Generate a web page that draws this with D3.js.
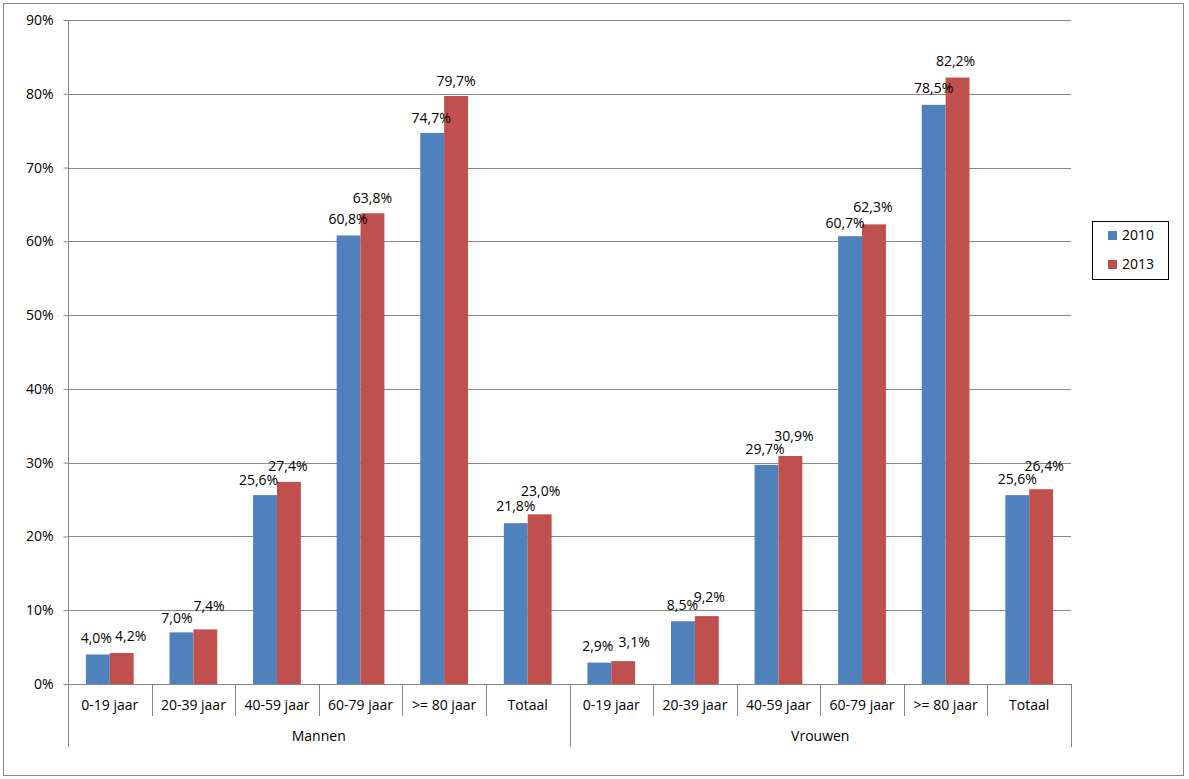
<!DOCTYPE html>
<html>
<head>
<meta charset="utf-8">
<script src="https://cdn.jsdelivr.net/npm/d3@7"></script>
<style>
  html, body { margin: 0; padding: 0; background: #fff; }
  svg { display: block; }
  text { font-family: "Open Sans", "Liberation Sans", sans-serif; fill: #000; }
</style>
</head>
<body>
<svg id="chart" width="1189" height="779"></svg>
<script>
// ---- data ----
const groups = ["Mannen", "Vrouwen"];
const categories = ["0-19 jaar", "20-39 jaar", "40-59 jaar", "60-79 jaar", ">= 80 jaar", "Totaal"];
const series = ["2010", "2013"];
const values2010 = [4.0, 7.0, 25.6, 60.8, 74.7, 21.8, 2.9, 8.5, 29.7, 60.7, 78.5, 25.6];
const values2013 = [4.2, 7.4, 27.4, 63.8, 79.7, 23.0, 3.1, 9.2, 30.9, 62.3, 82.2, 26.4];
const yTicks = [0, 10, 20, 30, 40, 50, 60, 70, 80, 90];

// ---- layout (label nudges as placed in the original) ----
const nudge2010 = [[-1.5,0],[-4.5,2],[-6.5,1],[-0.5,0],[-1,1],[0,-1],[-1.5,-1],[-0.5,0],[-1.5,0],[-5,3],[0,-1],[0,0]];
const nudge2013 = [[9,-1],[3.7,-7],[-1,0],[0,1],[0,1],[1,-7],[11,-3],[2.5,-3],[3.5,-4],[-1,-1],[-2,-1],[3,-7]];
const colors = { "2010": "#4F81BD", "2013": "#C0504D" };
const gridColor = "#868686";

const svg = d3.select("#chart");
const W = 1189, H = 779;
const plot = { left: 68, right: 1071, top: 20, bottom: 684 };

// outer border
svg.append("rect").attr("x", 3.5).attr("y", 3.5).attr("width", 1180).attr("height", 772)
  .attr("fill", "#fff").attr("stroke", gridColor).attr("stroke-width", 1);

const nCat = groups.length * categories.length;
const keys = d3.range(nCat);
const x = d3.scaleBand().domain(keys).range([plot.left, plot.right]).paddingInner(0).paddingOuter(0);
const xSub = d3.scaleBand().domain(series).range([0, x.bandwidth()]).paddingInner(0).paddingOuter(0.75);
const y = d3.scaleLinear().domain([0, 90]).range([plot.bottom, plot.top]);

// gridlines
svg.append("g").selectAll("line").data(yTicks.filter(d => d > 0)).join("line")
  .attr("x1", plot.left).attr("x2", plot.right)
  .attr("y1", d => Math.round(y(d)) + 0.5).attr("y2", d => Math.round(y(d)) + 0.5)
  .attr("stroke", gridColor).attr("stroke-width", 1);

// bars
const rows = keys.map(i => ({ i, vals: [
  { s: "2010", v: values2010[i], n: nudge2010[i] },
  { s: "2013", v: values2013[i], n: nudge2013[i] }
]}));

const gBars = svg.append("g");
rows.forEach(r => {
  r.vals.forEach(d => {
    gBars.append("rect")
      .attr("x", x(r.i) + xSub(d.s))
      .attr("y", y(d.v))
      .attr("width", xSub.bandwidth())
      .attr("height", y(0) - y(d.v))
      .attr("fill", colors[d.s]);
  });
});

// data labels
const fmt = v => d3.format(".1f")(v).replace(".", ",") + "%";
const gLab = svg.append("g");
rows.forEach(r => {
  r.vals.forEach(d => {
    gLab.append("text")
      .attr("x", x(r.i) + xSub(d.s) + xSub.bandwidth() / 2 + d.n[0])
      .attr("y", y(d.v) - 11 + d.n[1])
      .attr("text-anchor", "middle")
      .attr("font-size", 14)
      .text(fmt(d.v));
  });
});

// y axis
const yAxis = svg.append("g").attr("transform", `translate(${plot.left + 0.5},0)`)
  .call(d3.axisLeft(y).tickValues(yTicks).tickSize(5).tickPadding(10).tickFormat(d => d + "%"));
yAxis.select(".domain").attr("stroke", gridColor).attr("d", `M0,${plot.top}V${plot.bottom}`);
yAxis.selectAll(".tick line").attr("stroke", gridColor);
yAxis.selectAll(".tick text").attr("font-size", 14).attr("font-family", "Open Sans").attr("fill", "#000");

// x axis baseline
svg.append("line").attr("x1", plot.left).attr("x2", plot.right)
  .attr("y1", Math.round(y(0)) + 0.5).attr("y2", Math.round(y(0)) + 0.5)
  .attr("stroke", gridColor);

// category separators
const boundaries = d3.range(nCat + 1);
const gSep = svg.append("g");
boundaries.forEach(b => {
  const xb = Math.round(b === nCat ? plot.right : x(b)) + 0.5;
  const isGroupEdge = b % categories.length === 0;
  gSep.append("line")
    .attr("x1", xb).attr("x2", xb)
    .attr("y1", plot.bottom).attr("y2", isGroupEdge ? 747 : 716)
    .attr("stroke", gridColor);
});

// category labels
svg.append("g").selectAll("text").data(keys).join("text")
  .attr("x", d => x(d) + x.bandwidth() / 2)
  .attr("y", 710)
  .attr("text-anchor", "middle")
  .attr("font-size", 14)
  .text(d => categories[d % categories.length]);

// group labels
svg.append("g").selectAll("text").data(groups).join("text")
  .attr("x", (d, gi) => (x(gi * categories.length) + (gi === groups.length - 1 ? plot.right : x((gi + 1) * categories.length))) / 2)
  .attr("y", 741)
  .attr("text-anchor", "middle")
  .attr("font-size", 14)
  .text(d => d);

// legend
const leg = svg.append("g");
leg.append("rect").attr("x", 1092.5).attr("y", 221.5).attr("width", 76).attr("height", 58)
  .attr("fill", "#fff").attr("stroke", "#000");
series.forEach((s, i) => {
  leg.append("rect").attr("x", 1108).attr("y", 231 + i * 29).attr("width", 9).attr("height", 9)
    .attr("fill", colors[s]);
  leg.append("text").attr("x", 1122).attr("y", 240 + i * 29).attr("font-size", 14).text(s);
});
</script>
</body>
</html>
